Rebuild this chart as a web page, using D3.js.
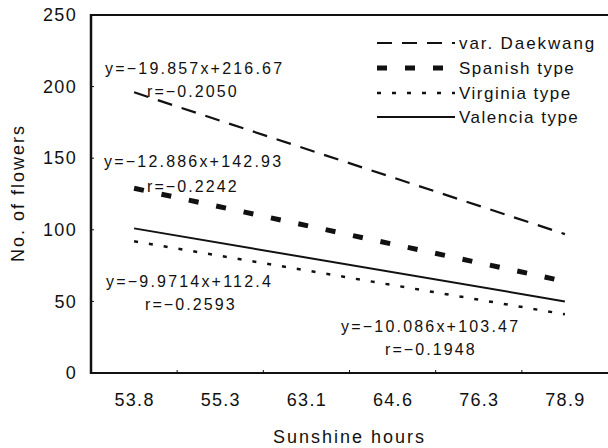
<!DOCTYPE html>
<html><head><meta charset="utf-8">
<script src="https://cdn.jsdelivr.net/npm/d3@7/dist/d3.min.js"></script>
<style>
html,body{margin:0;padding:0;background:#fff;}
text{font-family:"Liberation Sans",Arial,sans-serif;fill:#111;}
</style></head>
<body><svg id="c" width="608" height="448"></svg>
<script>
// ---- data ----
const categories = ["53.8","55.3","63.1","64.6","76.3","78.9"];
const lineEnds = ["53.8","78.9"];            // regression lines drawn between first and last category
const seriesNames = ["var. Daekwang","Spanish type","Virginia type","Valencia type"];
const daekwang = [196, 97];
const spanish  = [129, 64];
const virginia = [92, 41];
const valencia = [101, 50];
const yTicks = [0,50,100,150,200,250];
const equations = [
  {eq:"y=−19.857x+216.67", r:"r=−0.2050"},
  {eq:"y=−12.886x+142.93", r:"r=−0.2242"},
  {eq:"y=−9.9714x+112.4",  r:"r=−0.2593"},
  {eq:"y=−10.086x+103.47", r:"r=−0.1948"}
];

// ---- layout ----
const svg = d3.select("#c");
const L = 91, R = 608, T = 15, B = 373;
const x = d3.scalePoint().domain(categories).range([L, R]).padding(0.5);
const y = d3.scaleLinear().domain([0,250]).range([B, T]);

const styles = [
  {dash:"15,10", w:2.2},
  {dash:"10,18", w:5},
  {dash:"4,11",  w:2.5},
  {dash:null,    w:2}
];
const values = [daekwang, spanish, virginia, valencia];

// frame
svg.append("line").attr("x1",L).attr("x2",R).attr("y1",T).attr("y2",T).attr("stroke","#111").attr("stroke-width",2);
svg.append("line").attr("x1",L).attr("x2",L).attr("y1",T-1).attr("y2",B+1).attr("stroke","#111").attr("stroke-width",2.5);
svg.append("line").attr("x1",L).attr("x2",R).attr("y1",B).attr("y2",B).attr("stroke","#111").attr("stroke-width",2.2);

// y axis ticks & labels
const yAxis = d3.axisLeft(y).tickValues(yTicks).tickSize(0).tickPadding(14);
const gy = svg.append("g").attr("transform",`translate(${L},0)`).call(yAxis);
gy.select(".domain").remove();
gy.selectAll("text").attr("font-size",18).style("letter-spacing","1.3px").style("font-family","'Liberation Sans',Arial,sans-serif").attr("fill","#111");
svg.selectAll(".ytick").data(yTicks.slice(1,-1)).enter().append("line")
  .attr("x1",L).attr("x2",L+3).attr("y1",d=>y(d)).attr("y2",d=>y(d)).attr("stroke","#111").attr("stroke-width",1);

// x axis labels
const xAxis = d3.axisBottom(x).tickSize(0).tickPadding(20);
const gx = svg.append("g").attr("transform",`translate(0,${B})`).call(xAxis);
gx.select(".domain").remove();
gx.selectAll("text").attr("font-size",18).style("letter-spacing","1.3px").style("font-family","'Liberation Sans',Arial,sans-serif").attr("fill","#111");
const step = x.step();
svg.selectAll(".xtick").data(categories.slice(1)).enter().append("line")
  .attr("x1",d=>x(d)-step/2).attr("x2",d=>x(d)-step/2).attr("y1",B).attr("y2",B-3).attr("stroke","#111").attr("stroke-width",1);

// axis titles
svg.append("text").attr("x",(L+R)/2).attr("y",443).attr("text-anchor","middle")
  .attr("font-size",18).style("letter-spacing","2px").text("Sunshine hours");
svg.append("text").attr("transform",`translate(24,193) rotate(-90)`).attr("text-anchor","middle")
  .attr("font-size",18).style("letter-spacing","2px").text("No. of flowers");

// lines
const line = d3.line().x(d=>x(d[0])).y(d=>y(d[1]));
values.forEach((v,i)=>{
  svg.append("path").datum(lineEnds.map((c,j)=>[c,v[j]]))
    .attr("d",line).attr("fill","none").attr("stroke","#111")
    .attr("stroke-width",styles[i].w)
    .attr("stroke-dasharray",styles[i].dash);
});

// legend
const legY = [43,68,93,117];
const legSpacing = ["1.9px","1.5px","1.5px","1.5px"];
seriesNames.forEach((n,i)=>{
  svg.append("line").attr("x1",377).attr("x2",455).attr("y1",legY[i]).attr("y2",legY[i])
    .attr("stroke","#111").attr("stroke-width",styles[i].w).attr("stroke-dasharray",styles[i].dash);
  svg.append("text").attr("x",459).attr("y",legY[i]+6).attr("font-size",17)
    .style("letter-spacing",legSpacing[i]).text(n);
});

// equation annotations
const eqPos = [
  {x:105,y:74, rx:147,ry:97},
  {x:104,y:167,rx:147,ry:192},
  {x:106,y:287,rx:145,ry:310},
  {x:341,y:332,rx:385,ry:355}
];
equations.forEach((e,i)=>{
  svg.append("text").attr("x",eqPos[i].x).attr("y",eqPos[i].y).attr("font-size",16)
    .style("letter-spacing","2.2px").text(e.eq);
  svg.append("text").attr("x",eqPos[i].rx).attr("y",eqPos[i].ry).attr("font-size",16)
    .style("letter-spacing","2.1px").text(e.r);
});
</script></body></html>
